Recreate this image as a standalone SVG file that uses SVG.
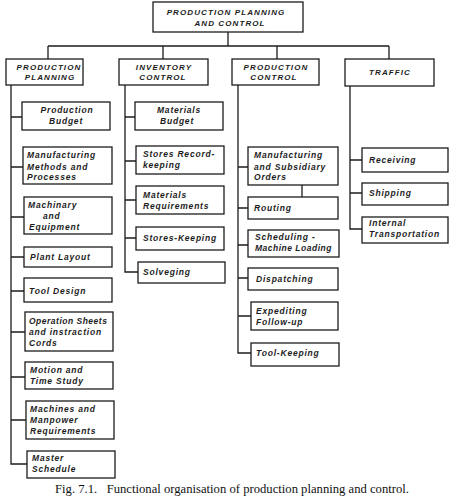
<svg xmlns="http://www.w3.org/2000/svg" width="462" height="503" viewBox="0 0 462 503">
<style>
.box{fill:#fff;stroke:#1c1c1c;stroke-width:1.3}
.c{fill:none;stroke:#1c1c1c;stroke-width:1.3}
.t{font-family:"Liberation Sans",Arial,sans-serif;font-style:italic;font-weight:bold;font-size:8.5px;letter-spacing:0.8px;fill:#1c1c1c}
.n{letter-spacing:0.5px}
.h{font-family:"Liberation Sans",Arial,sans-serif;font-style:italic;font-weight:bold;font-size:8px;letter-spacing:1.1px;fill:#1c1c1c;text-anchor:middle}
.m{text-anchor:middle}
.cap{font-family:"Liberation Serif","Times New Roman",serif;font-size:13px;fill:#111;white-space:pre}
</style>
<rect width="462" height="503" fill="#fff"/>
<g id="connectors">
<path class="c" d="M228 32V46M48 46H389M48 46V59M163 46V59M277 46V59M389 46V59"/>
<path class="c" d="M11 85V464H27M11 117H22M11 167H23M11 217H24M11 257H24M11 291H24M11 332H25M11 377H25M11 420H26"/>
<path class="c" d="M125 85V272H138M125 117H135M125 161H136M125 200H136M125 238H136"/>
<path class="c" d="M238 85V353H251M238 167H248M238 208H248M238 245H248M238 278H248M238 316H251M302 185V197"/>
<path class="c" d="M350 86V229H362M350 160H362M350 193H362"/>
</g>
<g id="root"><rect class="box" x="153" y="2" width="150" height="30"/><text class="h" x="226" y="15">PRODUCTION PLANNING</text><text class="h" x="230" y="26">AND CONTROL</text></g>
<g id="pp"><rect class="box" x="6" y="59" width="77" height="26"/><text class="h" x="49" y="70">PRODUCTION</text><text class="h" x="50" y="80">PLANNING</text></g>
<g id="ic"><rect class="box" x="119" y="59" width="89" height="26"/><text class="h" x="164" y="70">INVENTORY</text><text class="h" x="163" y="80">CONTROL</text></g>
<g id="pc"><rect class="box" x="232" y="59" width="87" height="26"/><text class="h" x="276" y="70">PRODUCTION</text><text class="h" x="274" y="80">CONTROL</text></g>
<g id="tr"><rect class="box" x="345" y="59" width="89" height="27"/><text class="h" x="390" y="75">TRAFFIC</text></g>

<g id="pp1"><rect class="box" x="22" y="102" width="88" height="28"/><text class="t m" x="67" y="113">Production</text><text class="t m" x="66" y="124">Budget</text></g>
<g id="pp2"><rect class="box" x="23" y="147" width="89" height="37"/><text class="t" x="27" y="158">Manufacturing</text><text class="t" x="27" y="170">Methods and</text><text class="t" x="27" y="180">Processes</text></g>
<g id="pp3"><rect class="box" x="24" y="197" width="88" height="37"/><text class="t" x="28" y="208">Machinary</text><text class="t" x="43" y="219">and</text><text class="t" x="29" y="230">Equipment</text></g>
<g id="pp4"><rect class="box" x="24" y="247" width="88" height="20"/><text class="t" x="30" y="260">Plant Layout</text></g>
<g id="pp5"><rect class="box" x="24" y="278" width="88" height="24"/><text class="t" x="29" y="294">Tool Design</text></g>
<g id="pp6"><rect class="box" x="25" y="312" width="88" height="39"/><text class="t n" x="29" y="324">Operation Sheets</text><text class="t" x="29" y="335">and instraction</text><text class="t" x="29" y="346">Cords</text></g>
<g id="pp7"><rect class="box" x="25" y="362" width="88" height="27"/><text class="t" x="30" y="373">Motion and</text><text class="t" x="30" y="384">Time Study</text></g>
<g id="pp8"><rect class="box" x="26" y="401" width="88" height="38"/><text class="t" x="30" y="412">Machines and</text><text class="t" x="30" y="423">Manpower</text><text class="t" x="30" y="434">Requirements</text></g>
<g id="pp9"><rect class="box" x="27" y="451" width="88" height="27"/><text class="t" x="32" y="461">Master</text><text class="t" x="32" y="472">Schedule</text></g>

<g id="ic1"><rect class="box" x="135" y="102" width="88" height="28"/><text class="t m" x="179" y="113">Materials</text><text class="t m" x="177" y="124">Budget</text></g>
<g id="ic2"><rect class="box" x="136" y="146" width="88" height="28"/><text class="t" x="143" y="157">Stores Record-</text><text class="t" x="143" y="168">keeping</text></g>
<g id="ic3"><rect class="box" x="136" y="186" width="88" height="28"/><text class="t" x="143" y="198">Materials</text><text class="t" x="143" y="209">Requirements</text></g>
<g id="ic4"><rect class="box" x="136" y="227" width="88" height="23"/><text class="t" x="143" y="241">Stores-Keeping</text></g>
<g id="ic5"><rect class="box" x="138" y="262" width="87" height="21"/><text class="t" x="143" y="275">Solveging</text></g>

<g id="pc1"><rect class="box" x="248" y="147" width="90" height="38"/><text class="t" x="254" y="158">Manufacturing</text><text class="t" x="254" y="170">and Subsidiary</text><text class="t" x="254" y="180">Orders</text></g>
<g id="pc2"><rect class="box" x="248" y="197" width="90" height="22"/><text class="t" x="254" y="211">Routing</text></g>
<g id="pc3"><rect class="box" x="248" y="230" width="91" height="27"/><text class="t" x="255" y="240">Scheduling -</text><text class="t n" x="255" y="251">Machine Loading</text></g>
<g id="pc4"><rect class="box" x="248" y="268" width="90" height="22"/><text class="t" x="256" y="282">Dispatching</text></g>
<g id="pc5"><rect class="box" x="251" y="302" width="87" height="28"/><text class="t" x="256" y="314">Expediting</text><text class="t" x="256" y="325">Follow-up</text></g>
<g id="pc6"><rect class="box" x="251" y="343" width="88" height="23"/><text class="t" x="256" y="356">Tool-Keeping</text></g>

<g id="tr1"><rect class="box" x="362" y="148" width="86" height="24"/><text class="t" x="369" y="163">Receiving</text></g>
<g id="tr2"><rect class="box" x="362" y="183" width="86" height="22"/><text class="t" x="369" y="196">Shipping</text></g>
<g id="tr3"><rect class="box" x="362" y="217" width="86" height="26"/><text class="t" x="369" y="226">Internal</text><text class="t" x="369" y="237">Transportation</text></g>

<text class="cap" x="55" y="493" textLength="354" lengthAdjust="spacingAndGlyphs">Fig. 7.1.   Functional organisation of production planning and control.</text>
</svg>
